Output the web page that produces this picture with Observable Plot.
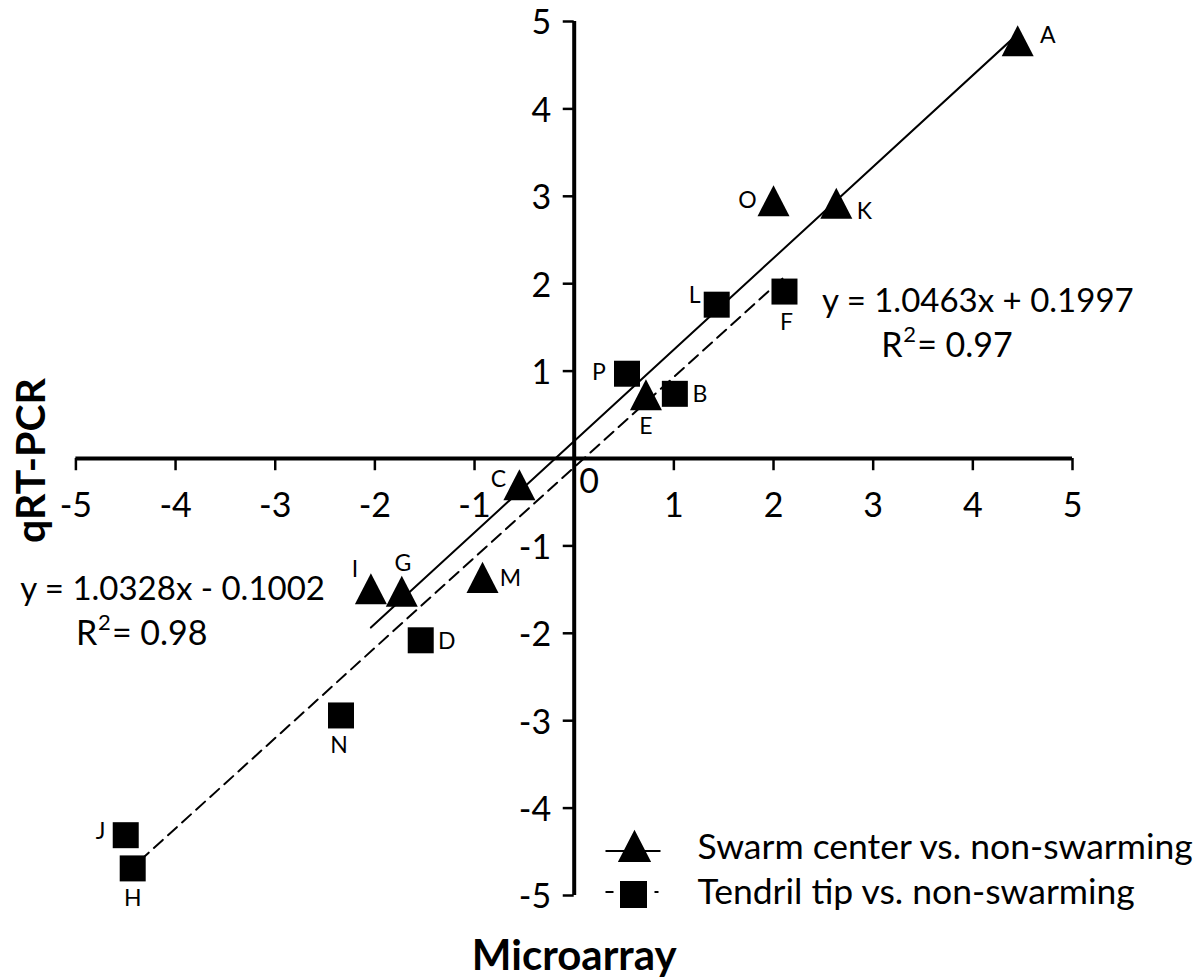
<!DOCTYPE html>
<html><head><meta charset="utf-8">
<script src="https://cdn.jsdelivr.net/npm/d3@7"></script>
<script src="https://cdn.jsdelivr.net/npm/@observablehq/plot@0.6"></script>
<style>
html,body{margin:0;padding:0;background:#fff;}
#chart{width:1200px;height:980px;}
</style>
</head><body><div id="chart"></div>
<script>
// ---- data ----
const swarmLabels = ["A", "O", "K", "E", "C", "I", "G", "M"];
const swarmMicroarray = [4.45, 2.0, 2.63, 0.72, -0.55, -2.04, -1.73, -0.92];
const swarmQPCR = [4.78, 2.95, 2.92, 0.73, -0.30, -1.49, -1.52, -1.36];

const tendrilLabels = ["L", "F", "P", "B", "D", "N", "J", "H"];
const tendrilMicroarray = [1.43, 2.11, 0.53, 1.01, -1.54, -2.34, -4.50, -4.43];
const tendrilQPCR = [1.76, 1.91, 0.97, 0.74, -2.08, -2.94, -4.31, -4.69];

const seriesNames = ["Swarm center vs. non-swarming", "Tendril tip vs. non-swarming"];
const fitSlope = [1.0463, 1.0328];
const fitIntercept = [0.1997, -0.1002];
const fitEquations = ["y = 1.0463x + 0.1997", "y = 1.0328x - 0.1002"];
const fitR2 = ["0.97", "0.98"];

const xTicks = [-5, -4, -3, -2, -1, 1, 2, 3, 4, 5];
const yTicks = [-5, -4, -3, -2, -1, 1, 2, 3, 4, 5];
const xTitle = "Microarray";
const yTitle = "qRT-PCR";

// ---- styling / placement (not data) ----
const labelOffsets = {
  A: [30, -5], O: [-26, 0], K: [28, 8], E: [0, 32], C: [-21, -5], I: [-16, -19],
  G: [1, -28], M: [28, 1], L: [-22, -9], F: [2, 31], P: [-28, -1], B: [25, 1],
  D: [26, 1], N: [-2, 30], J: [-25, -4], H: [0, 30]
};
// annotation anchor points (chart coordinates, as placed in the original figure)
const eqPos = [{x: 4.05, y: 1.80}, {x: -4.03, y: -1.50}];
const r2Pos = [{x: 3.08, y: 1.29}, {x: -5.0, y: -2.01}]; // left edge of "R"

const FONT = "Lato, 'Open Sans', sans-serif";

// ---- build tables ----
const swarm = swarmLabels.map((l, i) => ({label: l, x: swarmMicroarray[i], y: swarmQPCR[i]}));
const tendril = tendrilLabels.map((l, i) => ({label: l, x: tendrilMicroarray[i], y: tendrilQPCR[i]}));

function fitLine(xs, k) {
  const [x0, x1] = d3.extent(xs);
  return [x0, x1].map(x => ({x, y: fitSlope[k] * x + fitIntercept[k]}));
}
const fitSwarm = fitLine(swarmMicroarray, 0);
const fitTendril = fitLine(tendrilMicroarray, 1);

// custom symbols
const triangleSym = {
  draw(ctx, size) {
    const r = Math.sqrt(size / Math.PI);
    ctx.moveTo(0, -0.97 * r);
    ctx.lineTo(r, 0.97 * r);
    ctx.lineTo(-r, 0.97 * r);
    ctx.closePath();
  }
};
const legendSwarmSym = {
  draw(ctx, size) {
    const r = Math.sqrt(size / Math.PI);
    ctx.moveTo(-29, 4.5); ctx.lineTo(26, 4.5);
    ctx.moveTo(0, -0.97 * r);
    ctx.lineTo(r, 0.97 * r);
    ctx.lineTo(-r, 0.97 * r);
    ctx.closePath();
  }
};
const legendTendrilSym = {
  draw(ctx, size) {
    const r = Math.sqrt(size / Math.PI);
    ctx.moveTo(-28, -2.5); ctx.lineTo(-20, -2.5);
    ctx.moveTo(21, -2.5); ctx.lineTo(25, -2.5);
    ctx.rect(-r, -r, 2 * r, 2 * r);
  }
};

const allPoints = [...swarm, ...tendril];

function r2Marks(k) {
  const p = r2Pos[k];
  return [
    Plot.text(["R"], {x: p.x, y: p.y, text: d => d, textAnchor: "start", fontSize: 34, fill: "black"}),
    Plot.text(["2"], {x: p.x, y: p.y, text: d => d, textAnchor: "start", dx: 22, dy: -11, fontSize: 22, fill: "black"}),
    Plot.text([fitR2[k]], {x: p.x, y: p.y, text: d => "= " + d, textAnchor: "start", dx: 36, fontSize: 34, fill: "black"})
  ];
}

const chart = Plot.plot({
  width: 1200,
  height: 980,
  marginLeft: 75.4,
  marginRight: 128,
  marginTop: 21,
  marginBottom: 85,
  x: {domain: [-5, 5], axis: null},
  y: {domain: [-5, 5], axis: null},
  style: {fontFamily: FONT, background: "white", color: "black"},
  marks: [
    // axes through origin
    Plot.ruleY([0], {x1: -5, x2: 5, stroke: "black", strokeWidth: 4}),
    Plot.ruleX([0], {y1: -5, y2: 5, stroke: "black", strokeWidth: 4}),
    Plot.ruleX(xTicks, {x: d => d, y1: 0, y2: -0.14, stroke: "black", strokeWidth: 2.5}),
    Plot.ruleY(yTicks, {y: d => d, x1: -0.11, x2: 0, stroke: "black", strokeWidth: 2.5}),
    Plot.text(xTicks, {x: d => d, y: 0, text: d => String(d), dy: 48, fontSize: 34, fill: "black"}),
    Plot.text(yTicks, {x: 0, y: d => d, text: d => String(d), dx: -23, dy: 2, textAnchor: "end", fontSize: 34, fill: "black"}),
    Plot.text([0], {x: 0, y: 0, text: d => String(d), dx: 15, dy: 24, fontSize: 34, fill: "black"}),

    // trend lines
    Plot.line(fitSwarm, {x: "x", y: "y", stroke: "black", strokeWidth: 2}),
    Plot.line(fitTendril, {x: "x", y: "y", stroke: "black", strokeWidth: 2, strokeDasharray: "12,7"}),

    // points
    Plot.dot(swarm, {x: "x", y: "y", symbol: triangleSym, r: 16, fill: "black", stroke: "none"}),
    Plot.dot(tendril, {x: "x", y: "y", symbol: "square", r: 14.67, fill: "black", stroke: "none"}),

    // point labels
    ...allPoints.map(p => Plot.text([p], {
      x: "x", y: "y", text: "label",
      dx: labelOffsets[p.label][0], dy: labelOffsets[p.label][1],
      fontSize: 23, fill: "black"
    })),

    // equations
    ...fitEquations.map((t, k) => Plot.text([t], {x: eqPos[k].x, y: eqPos[k].y, text: d => d, fontSize: 33, fill: "black"})),
    ...r2Marks(0),
    ...r2Marks(1),

    // axis titles
    Plot.text([xTitle], {frameAnchor: "bottom", lineAnchor: "middle", textAnchor: "middle", dy: 61, text: d => d, fontSize: 42, fontWeight: "bold", fill: "black"}),
    Plot.text([yTitle], {frameAnchor: "left", lineAnchor: "middle", textAnchor: "middle", dx: -44, dy: 2, rotate: -90, text: d => d, fontSize: 41, fontWeight: "bold", fill: "black"}),

    // legend
    Plot.dot([0], {frameAnchor: "bottom-left", dx: 558.6, dy: -49, symbol: legendSwarmSym, r: 15, fill: "black", stroke: "black", strokeWidth: 2}),
    Plot.dot([0], {frameAnchor: "bottom-left", dx: 557.6, dy: -1, symbol: legendTendrilSym, r: 12.5, fill: "black", stroke: "black", strokeWidth: 2}),
    Plot.text([seriesNames[0]], {frameAnchor: "bottom-left", lineAnchor: "middle", dx: 621.6, dy: -48, textAnchor: "start", text: d => d, fontSize: 35.5, fill: "black"}),
    Plot.text([seriesNames[1]], {frameAnchor: "bottom-left", lineAnchor: "middle", dx: 621.6, dy: -3, textAnchor: "start", text: d => d, fontSize: 35.5, fill: "black"})
  ]
});
document.getElementById("chart").appendChild(chart);
</script>
</body></html>
